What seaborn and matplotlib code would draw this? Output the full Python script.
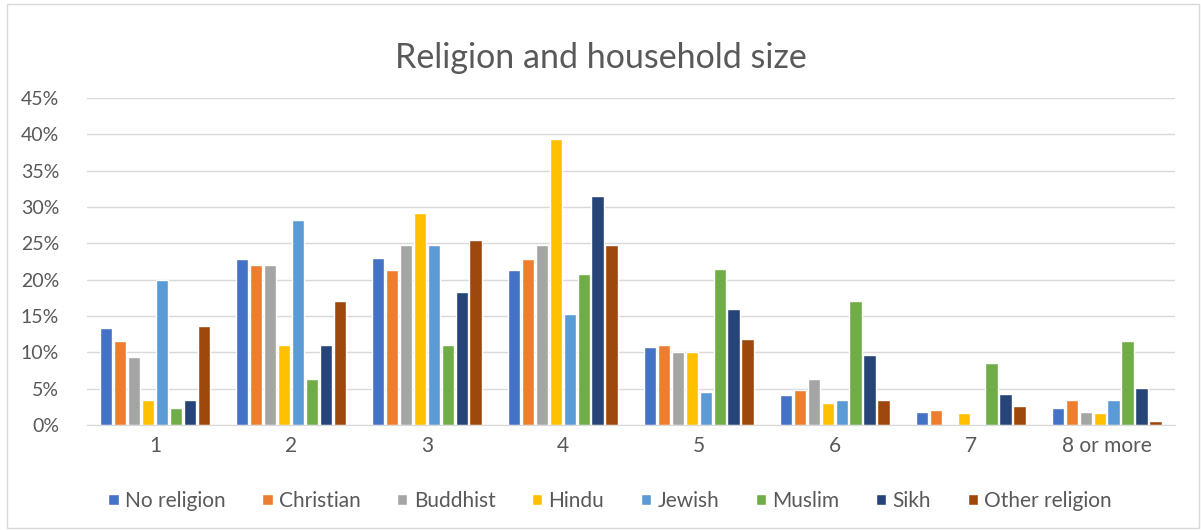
import matplotlib.pyplot as plt
import matplotlib.ticker as mticker
import pandas as pd
import seaborn as sns

sizes = ["1", "2", "3", "4", "5", "6", "7", "8 or more"]
religions = ["No religion", "Christian", "Buddhist", "Hindu", "Jewish", "Muslim", "Sikh", "Other religion"]

# percentages, one list per religion, by household size
no_religion = [13.3, 22.8, 23.0, 21.3, 10.8, 4.1, 1.8, 2.4]
christian = [11.5, 22.0, 21.3, 22.8, 11.0, 4.8, 2.1, 3.5]
buddhist = [9.3, 22.0, 24.8, 24.8, 10.0, 6.3, 0.0, 1.8]
hindu = [3.5, 11.0, 29.2, 39.4, 10.0, 3.1, 1.6, 1.6]
jewish = [20.0, 28.2, 24.8, 15.3, 4.6, 3.4, 0.0, 3.4]
muslim = [2.3, 6.3, 11.0, 20.8, 21.5, 17.1, 8.6, 11.5]
sikh = [3.5, 11.0, 18.3, 31.5, 16.0, 9.6, 4.3, 5.1]
other = [13.6, 17.1, 25.5, 24.8, 11.8, 3.5, 2.6, 0.6]

colors = ["#4472C4", "#ED7D31", "#A5A5A5", "#FFC000", "#5B9BD5", "#70AD47", "#264478", "#9E480E"]

series = [no_religion, christian, buddhist, hindu, jewish, muslim, sikh, other]
rows = []
for rel, vals in zip(religions, series):
    for s, v in zip(sizes, vals):
        rows.append({"size": s, "religion": rel, "pct": v / 100})
df = pd.DataFrame(rows)

sns.set_style("white")
plt.rcParams["font.family"] = ["Lato", "DejaVu Sans"]

fig = plt.figure(figsize=(12.01, 5.30), dpi=100)
ax = fig.add_axes([0.0724, 0.198, 0.9056, 0.617])

sns.barplot(data=df, x="size", y="pct", hue="religion", order=sizes, hue_order=religions,
            palette=colors, width=0.82, gap=0.12, saturation=1, ax=ax, legend=True)

ax.set_ylim(0, 0.45)
ax.set_xlim(-0.5, 7.5)
ax.yaxis.set_major_locator(mticker.MultipleLocator(0.05))
ax.yaxis.set_major_formatter(mticker.PercentFormatter(1.0, decimals=0))
ax.grid(axis="y", color="#d9d9d9", linewidth=1)
ax.set_axisbelow(True)
for side in ["top", "right", "left"]:
    ax.spines[side].set_visible(False)
ax.spines["bottom"].set_color("#d9d9d9")
ax.tick_params(axis="y", length=0, labelsize=14, colors="#595959", pad=20)
ax.tick_params(axis="x", length=0, labelsize=15, colors="#595959", pad=8)
ax.set_xticks(range(8), minor=False)
ax.set_xticks([i - 0.5 for i in range(9)], minor=True)
ax.tick_params(axis="x", which="minor", length=6, color="#d9d9d9")
ax.set_xlabel("")
ax.set_ylabel("")

handles, labels = ax.get_legend_handles_labels()
ax.get_legend().remove()
fig.legend(handles, labels, loc="center", bbox_to_anchor=(0.508, 0.055), ncol=8, frameon=False,
           handlelength=0.5, handleheight=0.5, handletextpad=0.3, columnspacing=1.75,
           fontsize=15, labelcolor="#595959")

fig.suptitle("Religion and household size", y=0.92, fontsize=24.5, color="#595959")

border = plt.Rectangle((0.006, 0.003), 0.992, 0.99, transform=fig.transFigure, fill=False,
                       edgecolor="#d9d9d9", linewidth=1)
fig.patches.append(border)

fig.savefig("out.png", dpi=100)
